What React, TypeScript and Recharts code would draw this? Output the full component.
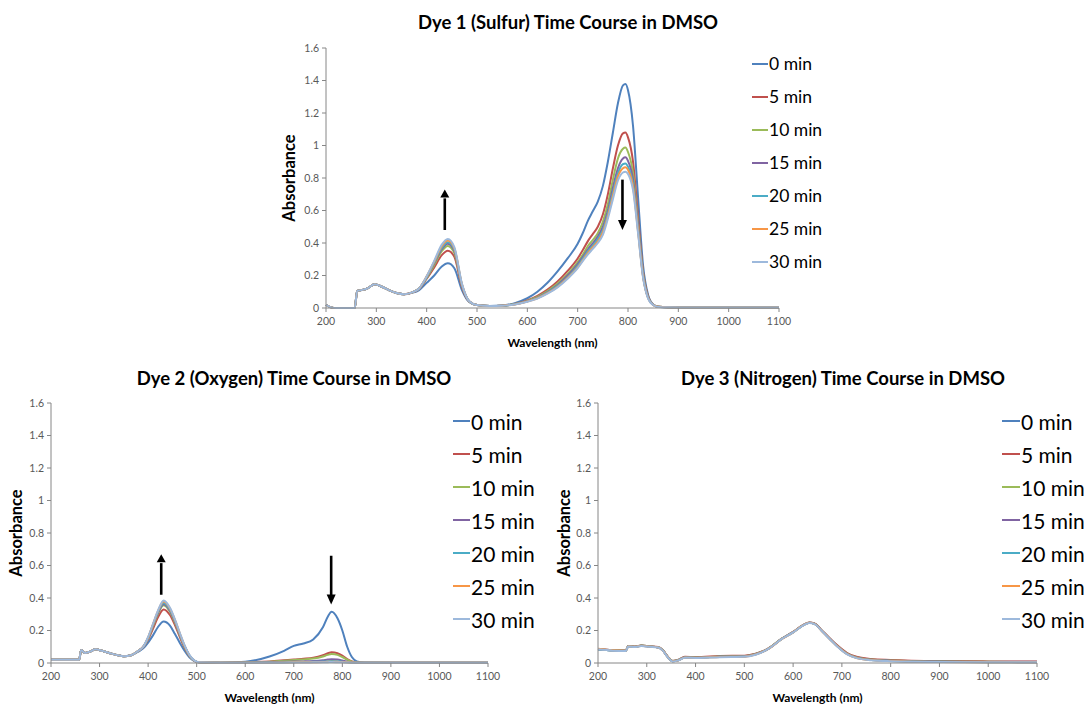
import React from 'react';
import { LineChart, Line, XAxis, YAxis, Legend, ReferenceLine, Label } from 'recharts';

const SERIES_NAMES = ['0 min', '5 min', '10 min', '15 min', '20 min', '25 min', '30 min'];
const COLORS = ['#4F81BD', '#C0504D', '#9BBB59', '#8064A2', '#4BACC6', '#F79646', '#9DB9DC'];
const X_TICKS = [200, 300, 400, 500, 600, 700, 800, 900, 1000, 1100];
const Y_TICKS = [0, 0.2, 0.4, 0.6, 0.8, 1, 1.2, 1.4, 1.6];

const TITLE_1 = 'Dye 1 (Sulfur) Time Course in DMSO';
const TITLE_2 = 'Dye 2 (Oxygen) Time Course in DMSO';
const TITLE_3 = 'Dye 3 (Nitrogen) Time Course in DMSO';

// ---------- Dye 1 (Sulfur) ----------
const WL_1 = [200, 210, 220, 257, 262, 270, 282, 297, 310, 325, 340, 355, 370, 385, 400, 415, 430, 442, 455, 470, 485, 500, 525, 550, 575, 600, 620, 640, 660, 680, 700, 710, 720, 730, 740, 750, 760, 770, 780, 790, 795, 800, 810, 820, 830, 840, 850, 860, 880, 950, 1100];
const D1_0 = [0.02, 0.004, 0, 0, 0.105, 0.11, 0.12, 0.146, 0.132, 0.11, 0.092, 0.085, 0.093, 0.11, 0.155, 0.2, 0.255, 0.275, 0.245, 0.11, 0.035, 0.018, 0.013, 0.015, 0.03, 0.06, 0.1, 0.155, 0.225, 0.305, 0.395, 0.46, 0.535, 0.595, 0.655, 0.75, 0.9, 1.08, 1.26, 1.37, 1.378, 1.34, 1.12, 0.68, 0.26, 0.08, 0.022, 0.008, 0.004, 0.003, 0.003];
const D1_5 = [0.02, 0.004, 0, 0, 0.105, 0.11, 0.12, 0.146, 0.132, 0.11, 0.092, 0.085, 0.094, 0.118, 0.18, 0.25, 0.325, 0.353, 0.315, 0.13, 0.038, 0.018, 0.012, 0.014, 0.025, 0.047, 0.075, 0.113, 0.163, 0.228, 0.305, 0.355, 0.41, 0.455, 0.5, 0.575, 0.7, 0.86, 1.0, 1.075, 1.08, 1.05, 0.9, 0.56, 0.22, 0.07, 0.02, 0.007, 0.004, 0.003, 0.003];
const D1_10 = [0.02, 0.004, 0, 0, 0.105, 0.11, 0.12, 0.146, 0.132, 0.11, 0.092, 0.085, 0.095, 0.12, 0.185, 0.265, 0.35, 0.382, 0.338, 0.138, 0.039, 0.018, 0.012, 0.014, 0.024, 0.044, 0.068, 0.104, 0.15, 0.21, 0.283, 0.328, 0.38, 0.418, 0.46, 0.53, 0.64, 0.79, 0.92, 0.98, 0.987, 0.96, 0.83, 0.52, 0.21, 0.066, 0.02, 0.007, 0.004, 0.003, 0.003];
const D1_15 = [0.02, 0.004, 0, 0, 0.105, 0.11, 0.12, 0.146, 0.132, 0.11, 0.092, 0.085, 0.095, 0.12, 0.19, 0.275, 0.362, 0.395, 0.35, 0.142, 0.04, 0.018, 0.012, 0.014, 0.023, 0.042, 0.064, 0.098, 0.142, 0.2, 0.27, 0.313, 0.36, 0.398, 0.44, 0.5, 0.6, 0.74, 0.86, 0.92, 0.927, 0.905, 0.79, 0.5, 0.2, 0.064, 0.02, 0.007, 0.004, 0.003, 0.003];
const D1_20 = [0.02, 0.004, 0, 0, 0.105, 0.11, 0.12, 0.146, 0.132, 0.11, 0.092, 0.085, 0.095, 0.12, 0.19, 0.28, 0.37, 0.405, 0.36, 0.145, 0.04, 0.018, 0.012, 0.014, 0.023, 0.041, 0.062, 0.094, 0.136, 0.19, 0.26, 0.303, 0.348, 0.384, 0.425, 0.48, 0.58, 0.71, 0.83, 0.885, 0.89, 0.87, 0.76, 0.48, 0.195, 0.062, 0.02, 0.007, 0.004, 0.003, 0.003];
const D1_25 = [0.02, 0.004, 0, 0, 0.105, 0.11, 0.12, 0.146, 0.132, 0.11, 0.092, 0.085, 0.095, 0.12, 0.195, 0.285, 0.38, 0.415, 0.367, 0.148, 0.04, 0.018, 0.012, 0.014, 0.022, 0.04, 0.06, 0.091, 0.131, 0.185, 0.25, 0.293, 0.338, 0.374, 0.41, 0.465, 0.565, 0.69, 0.81, 0.86, 0.866, 0.85, 0.745, 0.47, 0.19, 0.06, 0.019, 0.007, 0.004, 0.003, 0.003];
const D1_30 = [0.02, 0.004, 0, 0, 0.105, 0.11, 0.12, 0.146, 0.132, 0.11, 0.092, 0.085, 0.095, 0.12, 0.195, 0.29, 0.39, 0.425, 0.375, 0.15, 0.04, 0.018, 0.012, 0.014, 0.022, 0.039, 0.058, 0.088, 0.127, 0.18, 0.245, 0.288, 0.328, 0.364, 0.4, 0.45, 0.55, 0.67, 0.785, 0.834, 0.839, 0.825, 0.725, 0.46, 0.185, 0.058, 0.018, 0.006, 0.004, 0.003, 0.003];

// ---------- Dye 2 (Oxygen) ----------
const WL_2 = [200, 255, 258, 262, 270, 280, 292, 305, 320, 335, 350, 365, 380, 390, 400, 410, 420, 432, 445, 455, 466, 475, 485, 495, 505, 550, 600, 650, 680, 700, 720, 740, 760, 770, 778, 790, 800, 810, 820, 830, 845, 900, 1100];
const D2_0 = [0.02, 0.02, 0.02, 0.08, 0.062, 0.07, 0.085, 0.075, 0.062, 0.05, 0.042, 0.048, 0.07, 0.09, 0.125, 0.17, 0.22, 0.255, 0.23, 0.18, 0.12, 0.075, 0.035, 0.012, 0.004, 0.002, 0.008, 0.04, 0.075, 0.105, 0.12, 0.145, 0.22, 0.285, 0.315, 0.275, 0.2, 0.1, 0.035, 0.01, 0.003, 0.002, 0.002];
const D2_5 = [0.02, 0.02, 0.02, 0.08, 0.062, 0.07, 0.085, 0.075, 0.062, 0.05, 0.042, 0.048, 0.075, 0.1, 0.145, 0.21, 0.28, 0.33, 0.295, 0.235, 0.155, 0.095, 0.043, 0.014, 0.004, 0.002, 0.004, 0.01, 0.017, 0.022, 0.026, 0.032, 0.048, 0.06, 0.066, 0.06, 0.045, 0.024, 0.01, 0.003, 0.002, 0.002, 0.002];
const D2_10 = [0.02, 0.02, 0.02, 0.08, 0.062, 0.07, 0.085, 0.075, 0.062, 0.05, 0.042, 0.048, 0.075, 0.1, 0.15, 0.225, 0.3, 0.355, 0.315, 0.25, 0.165, 0.1, 0.045, 0.015, 0.004, 0.002, 0.004, 0.008, 0.014, 0.018, 0.022, 0.027, 0.04, 0.05, 0.055, 0.05, 0.037, 0.02, 0.008, 0.003, 0.002, 0.002, 0.002];
const D2_15 = [0.02, 0.02, 0.02, 0.08, 0.062, 0.07, 0.085, 0.075, 0.062, 0.05, 0.042, 0.048, 0.075, 0.1, 0.153, 0.23, 0.305, 0.362, 0.322, 0.256, 0.168, 0.103, 0.046, 0.015, 0.004, 0.002, 0.003, 0.005, 0.007, 0.009, 0.01, 0.012, 0.017, 0.021, 0.023, 0.021, 0.015, 0.008, 0.004, 0.002, 0.002, 0.002, 0.002];
const D2_20 = [0.02, 0.02, 0.02, 0.08, 0.062, 0.07, 0.085, 0.075, 0.062, 0.05, 0.042, 0.048, 0.075, 0.1, 0.155, 0.235, 0.312, 0.37, 0.328, 0.262, 0.172, 0.105, 0.047, 0.015, 0.004, 0.002, 0.002, 0.003, 0.004, 0.005, 0.006, 0.007, 0.009, 0.011, 0.012, 0.011, 0.008, 0.005, 0.003, 0.002, 0.002, 0.002, 0.002];
const D2_25 = [0.02, 0.02, 0.02, 0.08, 0.062, 0.07, 0.085, 0.075, 0.062, 0.05, 0.042, 0.048, 0.075, 0.1, 0.158, 0.238, 0.318, 0.378, 0.335, 0.267, 0.176, 0.107, 0.048, 0.015, 0.004, 0.002, 0.002, 0.002, 0.003, 0.004, 0.004, 0.005, 0.006, 0.007, 0.008, 0.007, 0.006, 0.004, 0.003, 0.002, 0.002, 0.002, 0.002];
const D2_30 = [0.02, 0.02, 0.02, 0.08, 0.062, 0.07, 0.085, 0.075, 0.062, 0.05, 0.042, 0.048, 0.075, 0.1, 0.16, 0.24, 0.32, 0.385, 0.34, 0.27, 0.18, 0.11, 0.05, 0.016, 0.004, 0.002, 0.002, 0.002, 0.002, 0.003, 0.003, 0.004, 0.005, 0.005, 0.006, 0.005, 0.004, 0.003, 0.002, 0.002, 0.002, 0.002, 0.002];

// ---------- Dye 3 (Nitrogen) ----------
const WL_3 = [200, 230, 257, 262, 275, 289, 305, 323, 333, 343, 353, 365, 378, 400, 450, 500, 523, 550, 577, 600, 620, 633, 645, 657, 675, 690, 710, 730, 760, 800, 900, 1000, 1100];
const D3_0 = [0.084, 0.078, 0.076, 0.104, 0.1, 0.107, 0.102, 0.097, 0.078, 0.038, 0.012, 0.018, 0.036, 0.034, 0.04, 0.042, 0.055, 0.09, 0.15, 0.19, 0.232, 0.248, 0.24, 0.205, 0.15, 0.107, 0.06, 0.035, 0.022, 0.016, 0.01, 0.008, 0.007];
const D3_5 = [0.086, 0.079, 0.077, 0.105, 0.101, 0.108, 0.103, 0.098, 0.079, 0.039, 0.013, 0.02, 0.038, 0.037, 0.043, 0.045, 0.057, 0.091, 0.151, 0.191, 0.233, 0.249, 0.242, 0.207, 0.153, 0.11, 0.063, 0.038, 0.025, 0.019, 0.012, 0.01, 0.009];
const D3_10 = [0.085, 0.078, 0.076, 0.104, 0.1, 0.107, 0.102, 0.097, 0.078, 0.038, 0.012, 0.018, 0.036, 0.034, 0.04, 0.042, 0.055, 0.09, 0.15, 0.19, 0.232, 0.248, 0.24, 0.205, 0.15, 0.106, 0.059, 0.034, 0.021, 0.015, 0.009, 0.007, 0.006];
const D3_15 = [0.084, 0.077, 0.075, 0.103, 0.099, 0.106, 0.101, 0.096, 0.077, 0.037, 0.011, 0.017, 0.035, 0.033, 0.039, 0.041, 0.054, 0.089, 0.149, 0.19, 0.232, 0.248, 0.24, 0.204, 0.149, 0.105, 0.058, 0.033, 0.02, 0.014, 0.008, 0.006, 0.005];
const D3_20 = [0.085, 0.077, 0.075, 0.103, 0.099, 0.106, 0.101, 0.096, 0.077, 0.037, 0.011, 0.017, 0.034, 0.032, 0.038, 0.04, 0.053, 0.089, 0.149, 0.189, 0.231, 0.247, 0.239, 0.204, 0.149, 0.105, 0.057, 0.032, 0.019, 0.013, 0.007, 0.005, 0.005];
const D3_25 = [0.088, 0.078, 0.075, 0.103, 0.099, 0.106, 0.101, 0.096, 0.077, 0.037, 0.011, 0.016, 0.034, 0.032, 0.037, 0.039, 0.052, 0.088, 0.148, 0.189, 0.231, 0.247, 0.239, 0.203, 0.148, 0.104, 0.056, 0.031, 0.018, 0.012, 0.006, 0.005, 0.004];
const D3_30 = [0.084, 0.076, 0.074, 0.102, 0.098, 0.105, 0.1, 0.095, 0.076, 0.036, 0.01, 0.016, 0.033, 0.031, 0.036, 0.038, 0.051, 0.088, 0.148, 0.188, 0.23, 0.246, 0.238, 0.203, 0.148, 0.103, 0.055, 0.03, 0.017, 0.011, 0.006, 0.004, 0.004];

// Arrow annotations: [wavelength, from absorbance, to absorbance]
const ARROWS_1: [number, number, number][] = [[436, 0.48, 0.73], [789, 0.79, 0.48]];
const ARROWS_2: [number, number, number][] = [[427, 0.42, 0.67], [777, 0.66, 0.36]];
const ARROWS_3: [number, number, number][] = [];

function buildRows(wl: number[], series: number[][]) {
  return wl.map((w, i) => {
    const r: any = { w };
    series.forEach((s, k) => { r['s' + k] = s[i]; });
    return r;
  });
}

const ROWS_1 = buildRows(WL_1, [D1_0, D1_5, D1_10, D1_15, D1_20, D1_25, D1_30]);
const ROWS_2 = buildRows(WL_2, [D2_0, D2_5, D2_10, D2_15, D2_20, D2_25, D2_30]);
const ROWS_3 = buildRows(WL_3, [D3_0, D3_5, D3_10, D3_15, D3_20, D3_25, D3_30]);

const ArrowShape = (p: any) => {
  const { x1, y1, x2, y2 } = p;
  const dir = y2 > y1 ? 1 : -1;
  const head = 9;
  return (
    <g>
      <line x1={x1} y1={y1} x2={x2} y2={y2 - dir * head} stroke="#000" strokeWidth={2.6} />
      <polygon points={`${x2},${y2} ${x2 - 4.5},${y2 - dir * head - 1} ${x2 + 4.5},${y2 - dir * head - 1}`} fill="#000" />
    </g>
  );
};

type PanelProps = {
  left: number; top: number; width: number; height: number;
  margin: { top: number; right: number; bottom: number; left: number };
  yAxisWidth: number; rows: any[]; arrows: [number, number, number][];
  legendLeft: number; legendTop: number; legendFont: number; legendLine: number;
  yLabelOffset: number;
};

function Panel(props: PanelProps) {
  const { left, top, width, height, margin, yAxisWidth, rows, arrows, legendLeft, legendTop, legendFont, legendLine, yLabelOffset } = props;
  const renderLegend = (lp: any) => {
    const payload = [...(lp.payload || [])].sort(
      (a: any, b: any) => SERIES_NAMES.indexOf(a.value) - SERIES_NAMES.indexOf(b.value)
    );
    return (
      <div>
        {payload.map((e: any) => (
          <div key={e.value} style={{ height: 33, display: 'flex', alignItems: 'center' }}>
            <span style={{ display: 'inline-block', width: legendLine, height: 2, background: e.color, marginRight: 1 }} />
            <span style={{ fontSize: legendFont, color: '#000', lineHeight: 1, whiteSpace: 'nowrap' }}>{e.value}</span>
          </div>
        ))}
      </div>
    );
  };
  return (
    <div style={{ position: 'absolute', left, top }}>
      <LineChart width={width} height={height} data={rows} margin={margin}>
        <XAxis dataKey="w" type="number" domain={[200, 1100]} ticks={X_TICKS} interval={0}
          stroke="#868686" tickLine={{ stroke: '#868686' }} tickSize={4} tickMargin={6} height={40}
          tick={{ fill: '#595959', fontSize: 10.5 }}>
          <Label value="Wavelength (nm)" position="insideBottom" offset={1}
            style={{ fontWeight: 700, fontSize: 12, fill: '#000' }} />
        </XAxis>
        <YAxis type="number" domain={[0, 1.6]} ticks={Y_TICKS} interval={0} width={yAxisWidth}
          stroke="#868686" tickLine={{ stroke: '#868686' }} tickSize={4} tickMargin={3}
          tick={{ fill: '#595959', fontSize: 10.5 }}>
          <Label value="Absorbance" angle={-90} position="insideLeft" offset={yLabelOffset}
            style={{ textAnchor: 'middle', fontWeight: 700, fontSize: 16.5, fill: '#000' }} />
        </YAxis>
        {SERIES_NAMES.map((n, k) => (
          <Line key={n} dataKey={'s' + k} name={n} type="monotone" stroke={COLORS[k]} strokeWidth={2}
            dot={false} activeDot={false} isAnimationActive={false} />
        ))}
        {arrows.map((a, i) => (
          <ReferenceLine key={i} segment={[{ x: a[0], y: a[1] }, { x: a[0], y: a[2] }]} shape={ArrowShape} />
        ))}
        <Legend layout="vertical" align="center" verticalAlign="middle" content={renderLegend}
          wrapperStyle={{ left: legendLeft, top: legendTop, width: 90 }} />
      </LineChart>
    </div>
  );
}

const titleStyle = (cx: number, cy: number): React.CSSProperties => ({
  position: 'absolute', left: cx, top: cy - 12, transform: 'translateX(-50%)',
  fontWeight: 700, fontSize: 18.5, lineHeight: '24px', whiteSpace: 'nowrap', color: '#000',
});

export default function App() {
  return (
    <div style={{ position: 'absolute', left: 0, top: 0, width: 1089, height: 707, background: '#fff', fontFamily: 'Lato, "Open Sans", sans-serif', overflow: 'hidden' }}>
      <div style={titleStyle(568, 22)}>{TITLE_1}</div>
      <div style={titleStyle(294, 378)}>{TITLE_2}</div>
      <div style={titleStyle(843, 378)}>{TITLE_3}</div>
      <Panel left={270} top={30} width={570} height={325} margin={{ top: 18, right: 61, bottom: 7, left: 0 }}
        yAxisWidth={56} rows={ROWS_1} arrows={ARROWS_1} legendLeft={482} legendTop={17.5} legendFont={17.5} legendLine={16} yLabelOffset={19} />
      <Panel left={0} top={390} width={545} height={317} margin={{ top: 13, right: 57, bottom: 4, left: 0 }}
        yAxisWidth={51} rows={ROWS_2} arrows={ARROWS_2} legendLeft={453} legendTop={14.5} legendFont={21} legendLine={17} yLabelOffset={16} />
      <Panel left={548} top={390} width={541} height={317} margin={{ top: 13, right: 52, bottom: 4, left: 0 }}
        yAxisWidth={50} rows={ROWS_3} arrows={ARROWS_3} legendLeft={454} legendTop={14.5} legendFont={21} legendLine={18} yLabelOffset={16} />
    </div>
  );
}
